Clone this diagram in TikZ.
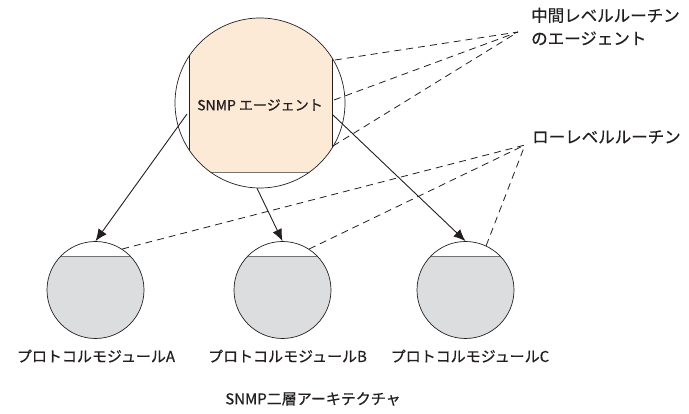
\documentclass[tikz,border=0pt]{standalone}
\usepackage{fontspec}
\setmainfont{Noto Sans CJK JP}[FakeBold=0.6]
\usetikzlibrary{arrows.meta}
\definecolor{agentfill}{RGB}{253,234,214}
\definecolor{modfill}{RGB}{220,221,222}
\definecolor{chordgray}{RGB}{115,115,115}
\definecolor{ink}{RGB}{35,31,32}

\begin{document}
\begin{tikzpicture}[x=1pt,y=-1pt,
  outline/.style={draw=ink,line width=0.7pt},
  ring/.style={circle,inner sep=0pt,outline},
  chord/.style={draw=chordgray,line width=1pt},
  lead/.style={draw=ink,line width=0.8pt,dash pattern=on 7pt off 5pt},
  link/.style={draw=ink,line width=0.9pt,-{Latex[length=12pt,width=10pt]}},
  caption/.style={inner sep=0pt,text=ink,font=\fontsize{15}{18}\selectfont},
  sidelabel/.style={inner sep=0pt,text=ink,anchor=west,align=left,
    font=\fontsize{16.5}{23}\selectfont}]
\useasboundingbox (0,0) rectangle (689,414);

% agent: circle with the peach band between two vertical chords
\begin{scope}
  \clip (260,103) circle [radius=85];
  \fill[agentfill] (189,0) rectangle (332,173);
  \draw[outline] (189,0) -- (189,173) (332,0) -- (332,173);
  \draw[chord] (189,173) -- (332,173);
\end{scope}

% protocol modules: grey segment below a chord
\foreach \cx in {95.5,282.5,465.5}{
  \begin{scope}
    \clip (\cx,290) circle [radius=48.5];
    \fill[modfill] (\cx-50,257) rectangle (\cx+50,340);
    \draw[chord] (\cx-50,257) -- (\cx+50,257);
  \end{scope}
}

\node[ring,minimum size=170pt] (agent) at (260,103) {};
\node[ring,minimum size=97pt] (modA) at (95.5,290) {};
\node[ring,minimum size=97pt] (modB) at (282.5,290) {};
\node[ring,minimum size=97pt] (modC) at (465.5,290) {};

\node[caption,font=\fontsize{14}{16}\selectfont] (agenttext) at (260,105) {SNMP エージェント};

% labels
\node[sidelabel] (midlabel) at (531,26.5) {中間レベルルーチン\\のエージェント};
\node[sidelabel] (lowlabel) at (532,137) {ローレベルルーチン};
\node[caption] (labA) at (96,356) {プロトコルモジュールA};
\node[caption] (labB) at (287.5,356) {プロトコルモジュールB};
\node[caption] (labC) at (470,356) {プロトコルモジュールC};
\node[caption] (title) at (313,399) {SNMP二層アーキテクチャ};

% call arrows from the agent to the modules
\coordinate (a1) at (187,114);
\coordinate (a3) at (333,115);
\draw[link] (a1) -- (modA.north);
\draw[link] (agent.-92) -- (modB.north);
\draw[link] (a3) -- (modC.north);

% leader lines to the side labels
\coordinate (midhub) at (518,32);
\coordinate (lowhub) at (525,145);
\coordinate (m1) at (335,60);
\coordinate (m2) at (334,100);
\coordinate (m3) at (333,146);
\foreach \p in {m1,m2,m3} \draw[lead] (\p) -- (midhub);
\draw[lead] (modA.57) -- (lowhub);
\draw[lead] (modB.57) -- (lowhub);
\draw[lead] (modC.65) -- (lowhub);
\end{tikzpicture}
\end{document}
